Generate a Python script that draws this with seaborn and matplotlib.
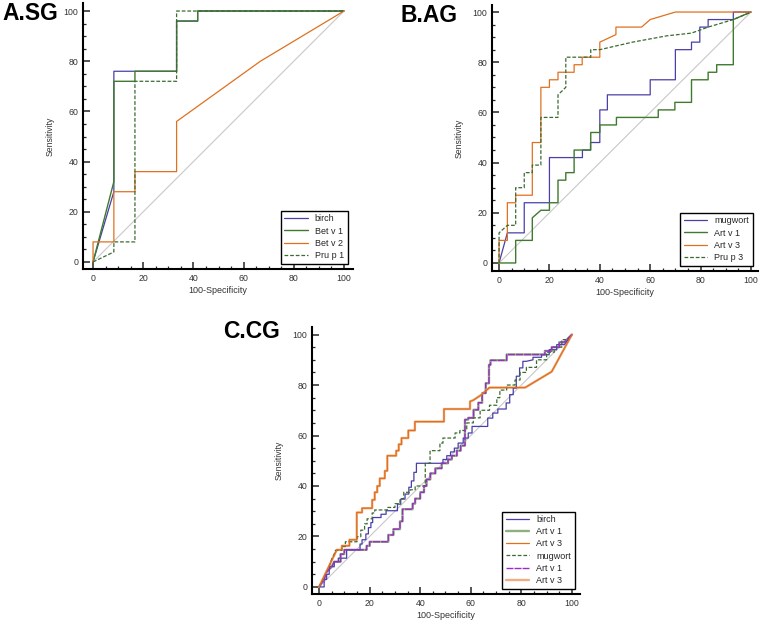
"""ROC curves for allergen components in three patient groups."""

import matplotlib
import numpy as np
import pandas as pd
import seaborn as sns
from matplotlib import pyplot as plt
from matplotlib.ticker import MultipleLocator

matplotlib.use("Agg")

# ---- panel A: SG ----
A_BIRCH_X = [0, 8.3, 8.3, 33.3, 33.3, 41.7, 41.7, 100]
A_BIRCH_Y = [0, 28, 76, 76, 96, 96, 100, 100]
A_BETV1_X = [0, 8.3, 8.3, 16.7, 16.7, 33.3, 33.3, 41.7, 41.7, 100]
A_BETV1_Y = [0, 32, 72, 72, 76, 76, 96, 96, 100, 100]
A_BETV2_X = [0, 0, 8.3, 8.3, 16.7, 16.7, 33.3, 33.3, 66.7, 100]
A_BETV2_Y = [0, 8, 8, 28, 28, 36, 36, 56, 80, 100]
A_PRUP1_X = [0, 8.3, 8.3, 16.7, 16.7, 33.3, 33.3, 100]
A_PRUP1_Y = [0, 4, 8, 8, 72, 72, 100, 100]

# ---- panel B: AG ----
B_MUGWORT_X = [0, 3.3, 10, 10, 20, 20, 33.1, 33.1, 36.3, 36.3, 40, 40, 43, 43, 60, 60,
               70, 70, 76.4, 76.4, 79.7, 79.7, 83, 83, 93, 93, 100]
B_MUGWORT_Y = [0, 12, 12, 24, 24, 42, 42, 45, 45, 48, 48, 61, 61, 67, 67, 73,
               73, 85, 85, 88, 88, 94, 94, 97, 97, 100, 100]
B_ARTV1_X = [0, 6.6, 6.6, 13.2, 13.2, 16.6, 20, 20, 23.4, 23.4, 26.5, 26.5, 29.8, 29.8,
             36.4, 36.4, 40, 40, 46.6, 46.6, 63.2, 63.2, 69.8, 69.8, 76.4, 76.4, 83, 83,
             86.4, 86.4, 93, 93, 100]
B_ARTV1_Y = [0, 0, 9, 9, 18, 21, 21, 24, 24, 33, 33, 36, 36, 45,
             45, 52, 52, 55, 55, 58, 58, 61, 61, 64, 64, 73, 73, 76,
             76, 79, 79, 97, 100]
B_ARTV3_X = [0, 0, 3.3, 3.3, 6.6, 6.6, 13.2, 13.2, 16.6, 16.6, 20, 20, 23.4, 23.4, 29.8,
             29.8, 33, 33, 40, 40, 46.4, 46.4, 56.6, 60, 70, 100]
B_ARTV3_Y = [0, 9, 9, 24, 24, 27, 27, 48, 48, 70, 70, 73, 73, 76, 76,
             79, 79, 82, 82, 88, 91, 94, 94, 97, 100, 100]
B_PRUP3_X = [0, 0, 3.3, 6.6, 6.6, 10, 10, 13.2, 13.2, 16.6, 16.6, 23.4, 23.4, 26.5, 26.5,
             36.4, 36.4, 40, 53, 66.5, 76.4, 83, 93, 100]
B_PRUP3_Y = [0, 12, 15, 15, 30, 30, 36, 36, 39, 39, 58, 58, 67, 70, 82,
             82, 85, 85, 88, 90.5, 91.6, 94, 97, 100]

# ---- panel C: CG ----
C_BIRCH_X = [0, 2, 2, 3, 3, 4, 4, 6, 6, 7.6, 7.6, 10.9, 10.9, 16.2, 16.2, 17, 17, 18.5,
             18.5, 19.5, 19.5, 20.5, 20.5, 21.2, 21.2, 24.5, 24.5, 26.5, 26.5, 31, 31,
             32.3, 32.3, 34, 34, 35.5, 35.5, 36.5, 36.5, 37.5, 37.5, 38.5, 38.5, 49, 49,
             50.5, 50.5, 52, 52, 53.5, 53.5, 55, 55, 57, 57, 59, 59, 60.5, 60.5, 66.7,
             66.7, 68.7, 68.7, 70.7, 70.7, 74, 74, 75.4, 75.4, 76.8, 76.8, 78, 78, 79.3,
             79.3, 80.6, 80.6, 82, 84.6, 84.6, 88, 88, 91, 91, 94, 94, 97, 100]
C_BIRCH_Y = [0, 0, 3, 3, 5, 5, 8, 8, 10, 10, 11.4, 11.4, 14.7, 14.7, 17, 17, 18.7, 18.7,
             21, 21, 23.5, 23.5, 25.5, 25.5, 27.5, 27.5, 28.8, 28.8, 30.2, 30.2, 32.8,
             32.8, 34.8, 34.8, 36.8, 36.8, 39.5, 39.5, 42, 42, 45.4, 45.4, 49, 49, 50.5,
             50.5, 52, 52, 53.5, 53.5, 55, 55, 57, 57, 59, 59, 61, 61, 63.6, 63.6,
             66.9, 66.9, 68.9, 68.9, 70.5, 70.5, 72.9, 72.9, 76.2, 76.2, 78.8, 78.8, 83.5,
             83.5, 86.8, 86.8, 89.4, 89.4, 90, 91, 91, 92, 92, 94, 94, 96, 96, 100]
C_ARTV1_X = [0, 2, 3, 5, 6, 8.5, 8.5, 10, 10, 18.8, 18.8, 20, 20, 27.4, 27.4, 29.4, 29.4,
             32, 32, 33, 33, 37, 37, 38, 38, 40, 40, 41.5, 41.5, 42.5, 42.5, 44, 44, 46,
             46, 48.5, 48.5, 51, 51, 52.5, 52.5, 54.5, 54.5, 56, 56, 57.7, 57.7, 59, 59,
             61.1, 61.1, 63, 63, 64.5, 64.5, 65.9, 65.9, 67.2, 67.2, 67.8, 67.8, 74.2,
             74.2, 89.3, 89.3, 92, 92, 95, 95, 97, 100]
C_ARTV1_Y = [0, 3, 6, 8, 10, 10, 13, 13, 14.7, 14.7, 16.3, 16.3, 17.9, 17.9, 20.6, 20.6,
             22.9, 22.9, 26, 26, 30.8, 30.8, 33, 33, 35, 35, 37.5, 37.5, 40, 40, 42.6,
             42.6, 45, 45, 47, 47, 49, 49, 50.5, 50.5, 52, 52, 54, 54, 56, 56, 66.3, 66.3,
             67, 67, 70.2, 70.2, 73, 73, 76.8, 76.8, 80.7, 80.7, 88, 88, 89.8, 89.8,
             92.1, 92.1, 93.5, 93.5, 95, 95, 97, 97, 100]
C_ARTV3_X = [0, 7, 9, 9, 12, 12, 14.9, 14.9, 17, 17, 21, 21, 22, 22, 23, 23, 24, 24, 26,
             26, 27, 27, 30.5, 30.5, 31.5, 31.5, 32.6, 32.6, 35.3, 35.3, 37.9, 37.9, 49.4,
             49.4, 59.7, 59.7, 61, 64, 67.4, 81.5, 92, 100]
C_ARTV3_Y = [0, 14.7, 14.7, 16.3, 16.3, 18.7, 18.7, 29.5, 29.5, 31.2, 31.2, 34.5, 34.5,
             37.5, 37.5, 40, 40, 43, 43, 46, 46, 52, 52, 54, 54, 56.5, 56.5, 59, 59, 62,
             62, 65.5, 65.5, 70.5, 70.5, 73.5, 74, 76, 79, 79, 85.3, 100]
C_MUGWORT_X = [0, 2, 4, 5, 6, 6.5, 9, 9, 10.4, 10.4, 15, 15, 16.5, 16.5, 18, 18, 19, 19,
               21, 21, 22, 22, 27, 27, 30, 30, 32, 32, 33.5, 33.5, 36, 36, 38, 38, 42,
               42, 43.9, 43.9, 47.8, 47.8, 49, 49, 53.8, 53.8, 55.7, 55.7, 58.4, 58.4, 61,
               61, 63.7, 63.7, 67.4, 67.4, 70.3, 70.3, 71.5, 71.5, 74.2, 74.2, 77.5, 77.5,
               79.5, 79.5, 82, 82, 86, 86, 90, 90, 93, 93, 96, 96, 98, 100]
C_MUGWORT_Y = [0, 4, 8, 11, 13, 14.5, 14.5, 16, 16, 17.9, 17.9, 19.9, 19.9, 22.5, 22.5,
               25, 25, 27, 27, 29.3, 29.3, 30.5, 30.5, 31.5, 31.5, 33, 33, 35, 35, 37.5,
               37.5, 38.5, 38.5, 40, 40, 49, 49, 54, 54, 57, 57, 59, 59, 61, 61, 62, 62,
               65, 65, 67, 67, 70, 70, 72, 72, 75, 75, 78, 78, 80, 80, 82, 82, 85, 85, 87,
               87, 90, 90, 93, 93, 95, 95, 98, 98, 100]

BLUE = "#4a3fa8"
GREEN = "#3f7a2e"
ORANGE = "#e0701f"
DASH_GREEN = "#3b6b30"
FONT = "Liberation Sans"


def draw_curve(ax, xs, ys, label, color, lw=0.9, ls="-", dashes=None, zorder=3):
    line_df = pd.DataFrame({"fpr": xs, "tpr": ys})
    sns.lineplot(data=line_df, x="fpr", y="tpr", ax=ax, sort=False, estimator=None,
                 color=color, lw=lw, label=label, zorder=zorder)
    line = ax.get_lines()[-1]
    line.set_linestyle(ls)
    if dashes is not None:
        line.set_dashes(dashes)


def style_axes(ax, xlim, ylim):
    ax.plot([0, 100], [0, 100], color="#c8c8c8", lw=0.8, zorder=1)
    ax.set_xlim(*xlim)
    ax.set_ylim(*ylim)
    ax.xaxis.set_major_locator(MultipleLocator(20))
    ax.yaxis.set_major_locator(MultipleLocator(20))
    ax.xaxis.set_minor_locator(MultipleLocator(5))
    ax.yaxis.set_minor_locator(MultipleLocator(5))
    ax.tick_params(which="major", direction="in", length=5, width=1.1,
                   labelsize=6.3, labelcolor="#333333", pad=3.5)
    ax.tick_params(which="minor", direction="in", length=2.5, width=0.9)
    for side in ["top", "right"]:
        ax.spines[side].set_visible(False)
    for side in ["left", "bottom"]:
        ax.spines[side].set_linewidth(1.5)
        ax.spines[side].set_color("black")
    ax.set_xlabel("100-Specificity", fontsize=6.5, color="#333333", labelpad=2)
    ax.set_ylabel("Sensitivity", fontsize=6.2, color="#333333", labelpad=6)
    leg = ax.legend(loc="lower right", fontsize=6.5, frameon=True, fancybox=False,
                    framealpha=1, edgecolor="black", borderaxespad=0.6,
                    labelspacing=0.35, handlelength=2.6, borderpad=0.4)
    leg.get_frame().set_linewidth(1.0)


sns.set_theme(style="ticks")
plt.rcParams["font.family"] = [FONT, "DejaVu Sans"]

fig = plt.figure(figsize=(7.61, 6.22), dpi=100)

ax_a = fig.add_axes([83 / 761, 1 - 269 / 622, 270 / 761, 266 / 622])
draw_curve(ax_a, A_BIRCH_X, A_BIRCH_Y, "birch", BLUE)
draw_curve(ax_a, A_BETV1_X, A_BETV1_Y, "Bet v 1", GREEN, lw=1.0)
draw_curve(ax_a, A_BETV2_X, A_BETV2_Y, "Bet v 2", ORANGE)
draw_curve(ax_a, A_PRUP1_X, A_PRUP1_Y, "Pru p 1", DASH_GREEN, dashes=(3, 1.5))
style_axes(ax_a, (-4, 103.6), (-2.8, 103.2))

ax_b = fig.add_axes([492 / 761, 1 - 271 / 622, 266 / 761, 266 / 622])
draw_curve(ax_b, B_MUGWORT_X, B_MUGWORT_Y, "mugwort", BLUE)
draw_curve(ax_b, B_ARTV1_X, B_ARTV1_Y, "Art v 1", GREEN, lw=1.0)
draw_curve(ax_b, B_ARTV3_X, B_ARTV3_Y, "Art v 3", ORANGE)
draw_curve(ax_b, B_PRUP3_X, B_PRUP3_Y, "Pru p 3", DASH_GREEN, dashes=(3, 1.5))
style_axes(ax_b, (-2.8, 102.8), (-3.2, 102.8))

ax_c = fig.add_axes([312 / 761, 1 - 594 / 622, 268 / 761, 267 / 622])
draw_curve(ax_c, C_BIRCH_X, C_BIRCH_Y, "birch", BLUE)
draw_curve(ax_c, C_ARTV1_X, C_ARTV1_Y, "Art v 1", "#8fb07e", lw=1.7, zorder=2)
draw_curve(ax_c, C_ARTV3_X, C_ARTV3_Y, "Art v 3", ORANGE, zorder=4)
draw_curve(ax_c, C_MUGWORT_X, C_MUGWORT_Y, "mugwort", DASH_GREEN, dashes=(3, 1.5))
draw_curve(ax_c, C_ARTV1_X, C_ARTV1_Y, "Art v 1", "#9a2cc8", lw=1.0, dashes=(5, 0.8))
draw_curve(ax_c, C_ARTV3_X, C_ARTV3_Y, "Art v 3", "#f0ad80", lw=1.7, zorder=2)
style_axes(ax_c, (-2.8, 103.2), (-2.8, 103))

title_kw = dict(fontsize=16.5, fontweight="bold", color="black", va="baseline", ha="left")
fig.text(2 / 761, 1 - 20 / 622, "A.SG", **title_kw)
fig.text(400 / 761, 1 - 22 / 622, "B.AG", **title_kw)
fig.text(223 / 761, 1 - 338 / 622, "C.CG", **title_kw)

fig.savefig("out.png", dpi=100, facecolor="white")
plt.close(fig)
